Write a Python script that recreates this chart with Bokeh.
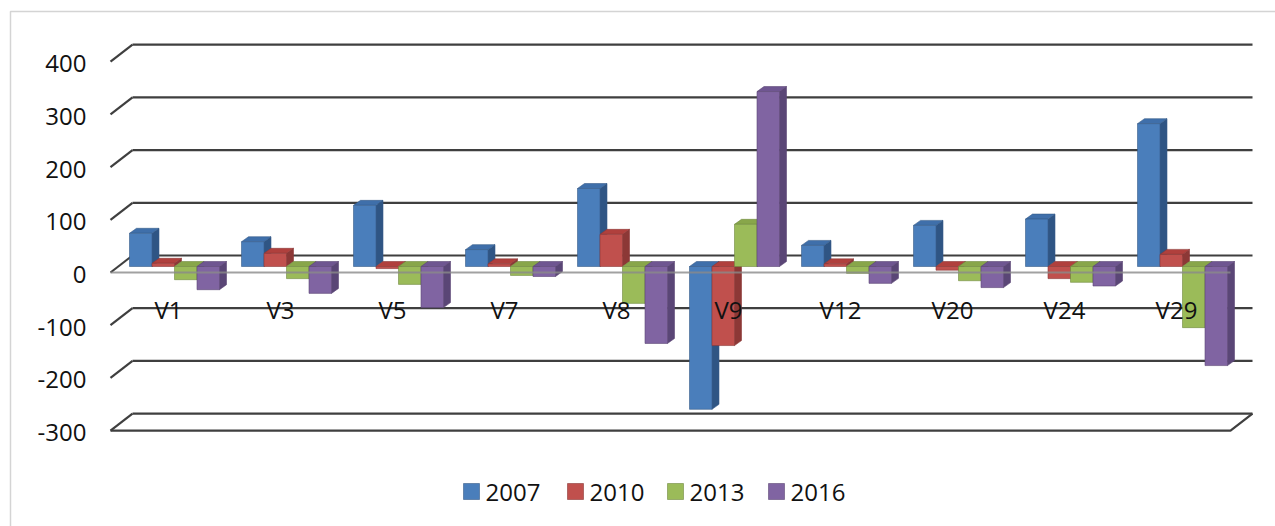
from bokeh.plotting import figure
from bokeh.models import Range1d
from bokeh.embed import file_html
from bokeh.resources import INLINE
from bokeh.core.properties import value

categories = ["V1", "V3", "V5", "V7", "V8", "V9", "V12", "V20", "V24", "V29"]
years = ["2007", "2010", "2013", "2016"]
v2007 = [63, 47, 116, 32, 148, -271, 40, 78, 90, 271]
v2010 = [6, 25, -4, 5, 61, -150, 5, -7, -23, 23]
v2013 = [-25, -23, -34, -17, -70, 80, -13, -27, -30, -116]
v2016 = [-44, -51, -78, -19, -146, 332, -32, -40, -37, -188]
ticks = [-300, -200, -100, 0, 100, 200, 300, 400]

series = [v2007, v2010, v2013, v2016]
front_col = ["#4A7EBB", "#C0504D", "#9BBB59", "#8064A2"]
side_col = ["#2F5584", "#8C3836", "#70883F", "#5A4676"]
top_col = ["#3F6FAA", "#B0403D", "#88A64A", "#6F5691"]
edge_col = ["#385D8A", "#8C3836", "#71893F", "#5C4776"]

W, H = 1275, 526
K = 0.527          # px per value unit
ZERO_Y = 255       # screen y of back-wall zero


def sy(py):
    """screen y (px) -> data value"""
    return (ZERO_Y - py) / K


def dv(px):
    """px height -> value units"""
    return px / K


p = figure(width=W, height=H, output_backend="svg", toolbar_location=None,
           x_range=Range1d(0, W), y_range=Range1d(sy(H), sy(0)),
           x_axis_type=None, y_axis_type=None, min_border=0)
p.outline_line_color = None
p.background_fill_color = "white"
p.border_fill_color = "white"

# outer chart border (top/left visible)
p.line([10, 10, W], [sy(H), sy(11), sy(11)], line_color="#d4d4d4", line_width=1.5)

GRID = "#3f3f3f"
GW = 2.2
XB0, XB1 = 132, 1252    # back wall
DXW, DYW = -22, 17      # wall depth offset (px)
FONT = value("Open Sans")
FS = "24px"

for t in ticks:
    p.line([XB0, XB1], [t, t], line_color=GRID, line_width=GW)
    p.line([XB0 + DXW, XB0], [t - dv(DYW), t], line_color=GRID, line_width=GW)
    if t == -300:
        p.line([XB0 + DXW, XB1 + DXW, XB1], [t - dv(DYW), t - dv(DYW), t],
               line_color=GRID, line_width=GW)
    p.text(x=[86], y=[t - dv(DYW + 2)], text=[str(t)], text_align="right",
           text_baseline="middle", text_font=FONT,
           text_font_size=FS, text_color="#111111")

# bars
BW = 22.5
DX, DD = 7, dv(5)
FO = -dv(11)
faces = {f: [([], []) for _ in range(4)] for f in ("side", "top", "front")}
for i, cat in enumerate(categories):
    cx = 174 + 112 * i
    for j, s in enumerate(series):
        v = s[i]
        x0 = cx - 2 * BW + BW * j
        x1 = x0 + BW
        lo, hi = min(v, 0) + FO, max(v, 0) + FO
        faces["front"][j][0].append([x0, x1, x1, x0])
        faces["front"][j][1].append([lo, lo, hi, hi])
        faces["top"][j][0].append([x0, x1, x1 + DX, x0 + DX])
        faces["top"][j][1].append([hi, hi, hi + DD, hi + DD])
        faces["side"][j][0].append([x1, x1 + DX, x1 + DX, x1])
        faces["side"][j][1].append([lo, lo + DD, hi + DD, hi])

for face, cols in (("side", side_col), ("top", top_col), ("front", front_col)):
    for j in range(4):
        xs, ys = faces[face][j]
        p.patches(xs, ys, fill_color=cols[j], line_color=edge_col[j], line_width=0.6)

# floor front edge at zero (seen through bars)
p.line([XB0 + DXW, XB1 + DXW], [-dv(DYW), -dv(DYW)], line_color="#8a8a8a",
       line_width=GW, line_alpha=0.8)

# category labels
for i, cat in enumerate(categories):
    cx = 174 + 112 * i
    p.text(x=[cx - 6], y=[sy(309)], text=[cat], text_align="center",
           text_baseline="middle", text_font=FONT,
           text_font_size=FS, text_color="#111111")

# legend
leg_x = [463, 567, 667, 768]
for j, yr in enumerate(years):
    x0 = leg_x[j]
    p.quad(left=[x0], right=[x0 + 16], bottom=[sy(499)], top=[sy(483)],
           fill_color=front_col[j], line_color=edge_col[j], line_width=0.6)
    p.text(x=[x0 + 22], y=[sy(492)], text=[yr], text_align="left",
           text_baseline="middle", text_font=FONT,
           text_font_size=FS, text_color="#111111")

open("out.html", "w").write(file_html(p, INLINE))
